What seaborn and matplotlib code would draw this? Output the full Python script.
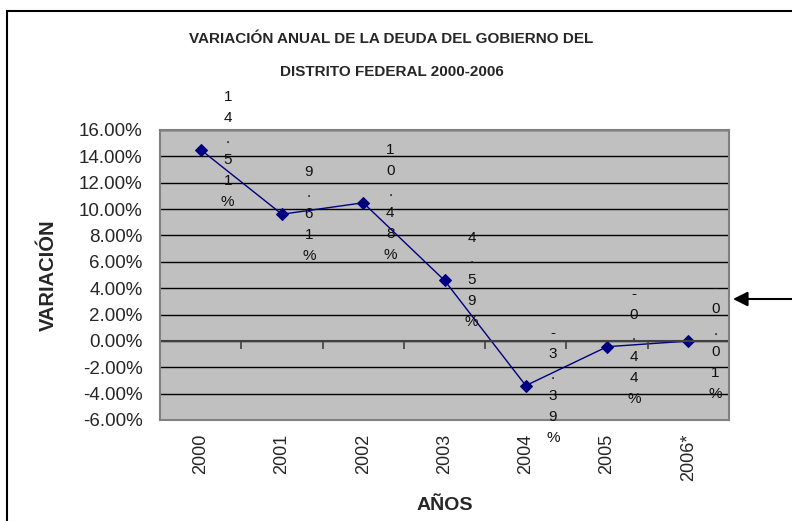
import matplotlib
matplotlib.use("Agg")
import matplotlib.pyplot as plt
import matplotlib.patches as mpatches
from matplotlib.ticker import PercentFormatter, MultipleLocator
import matplotlib.markers as mmarkers
from matplotlib import font_manager
import seaborn as sns
import pandas as pd

years = ["2000", "2001", "2002", "2003", "2004", "2005", "2006*"]
variation = [0.1451, 0.0961, 0.1048, 0.0459, -0.0339, -0.0044, -0.0001]
labels = ["14.51%", "9.61%", "10.48%", "4.59%", "-3.39%", "-0.44%", "-0.01%"]

sns.set_style("white")
plt.rcParams["font.family"] = ["Liberation Sans", "DejaVu Sans"]
plt.rcParams["axes.unicode_minus"] = False

installed = {f.name for f in font_manager.fontManager.ttflist}
if "Liberation Sans Narrow" in installed:
    title_family, title_size = ["Liberation Sans Narrow", "Liberation Sans"], 13.3
else:
    title_family, title_size = ["Liberation Sans", "DejaVu Sans"], 11

df = pd.DataFrame({"year": years, "var": variation})

fig = plt.figure(figsize=(7.92, 5.21), dpi=100)
ax = fig.add_axes([160/792, 1-420/521, (729-160)/792, 290/521])
ax.set_facecolor("#C0C0C0")

ax.set_ylim(-0.06, 0.16)
ax.yaxis.set_major_locator(MultipleLocator(0.02))
ax.yaxis.set_major_formatter(PercentFormatter(xmax=1, decimals=2))
ax.grid(axis="y", color="black", lw=1)
ax.set_axisbelow(True)

sns.lineplot(data=df, x="year", y="var", sort=False, color="#000080", lw=1,
             marker="D", markersize=6.2, markeredgecolor="#000080", ax=ax)
ax.set_xlim(-0.5, len(years)-0.5)

# axis line at zero with category boundary ticks
ax.axhline(0, color="#404040", lw=1.5, zorder=2)
bounds = [i - 0.5 for i in range(len(years)+1)]
ax.plot(bounds, [0]*len(bounds), ls="none", marker=mmarkers.TICKDOWN,
        markersize=6, color="#404040", mew=1.2, clip_on=False)

for s in ax.spines.values():
    s.set_color("#808080")
    s.set_linewidth(1.5)

ax.tick_params(axis="y", length=4.5, width=1, color="#404040", pad=8, labelsize=13.5)
ax.tick_params(axis="x", length=0, pad=10, labelsize=13, labelrotation=90)
for t in ax.get_xticklabels():
    t.set_va("top")

ax.set_xlabel("AÑOS", fontsize=14, fontweight="bold", labelpad=11)
ax.set_ylabel("VARIACIÓN", fontsize=14.5, fontweight="bold", labelpad=15)

for i, (v, lab) in enumerate(zip(variation, labels)):
    ax.annotate("\n".join(lab), xy=(i, v), xytext=(27, 0), textcoords="offset pixels",
                ha="center", va="center", multialignment="center",
                fontsize=11, linespacing=1.64, color="#111111", annotation_clip=False)

fig.text(391/792, 1-39/521, "VARIACIÓN ANUAL DE LA DEUDA DEL GOBIERNO DEL",
         ha="center", va="center", fontsize=title_size, fontweight="bold",
         family=title_family)
fig.text(392/792, 1-72/521, "DISTRITO FEDERAL 2000-2006",
         ha="center", va="center", fontsize=title_size, fontweight="bold",
         family=title_family)

# outer chart border
fig.patches.append(mpatches.Rectangle((7/792, -0.2), 1.5, 1.2 - 11/521,
                                      transform=fig.transFigure, fill=False,
                                      ec="black", lw=1.5))
# arrow pointing to the last label
ax.annotate("", xy=(733/792, 1-299/521), xytext=(1.0, 1-299/521),
            xycoords="figure fraction", textcoords="figure fraction",
            arrowprops=dict(arrowstyle="-|>", color="black", lw=1.5,
                            mutation_scale=22, shrinkA=0, shrinkB=0))

fig.savefig("out.png", dpi=100)
